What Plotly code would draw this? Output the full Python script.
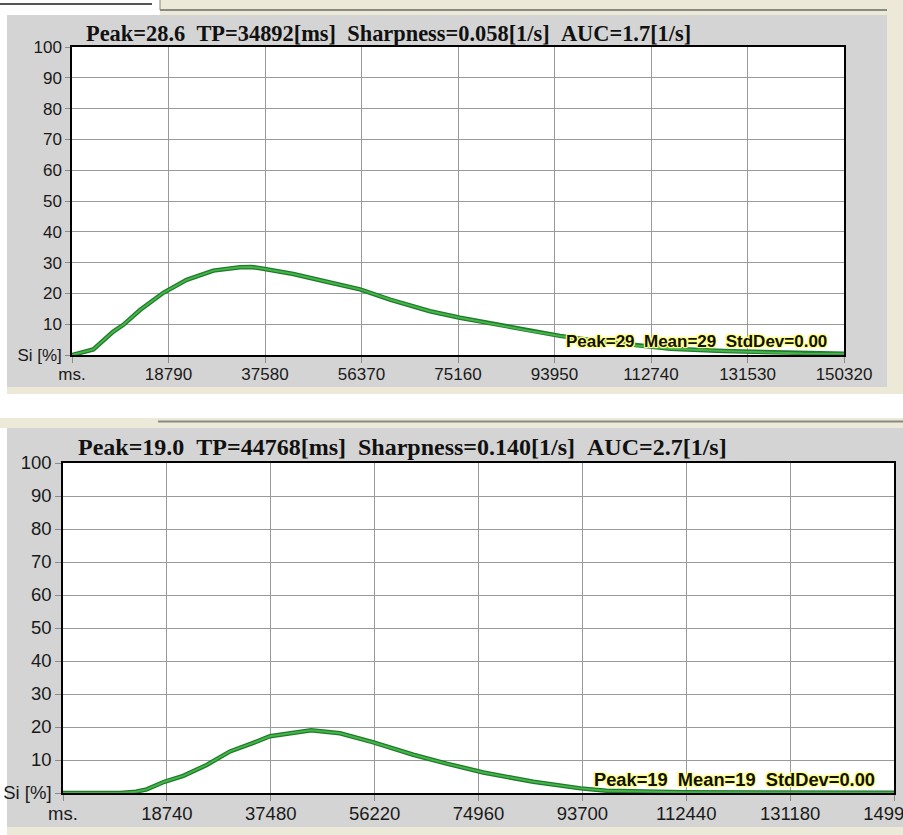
import plotly.graph_objects as go

# ---------------- data ----------------
# top panel
title1 = "Peak=28.6  TP=34892[ms]  Sharpness=0.058[1/s]  AUC=1.7[1/s]"
stats1 = "Peak=29  Mean=29  StdDev=0.00"
t1 = [0, 4150, 8040, 9990, 13240, 17780, 22330, 27520, 32710, 34892, 37250, 43090,
      49590, 56080, 61920, 69710, 75550, 83340, 89180, 95020, 102000, 109000,
      116500, 126780, 142350, 150320]
si1 = [0, 1.8, 7.6, 9.8, 14.6, 20.2, 24.4, 27.4, 28.5, 28.6, 28.0, 26.3,
       23.8, 21.3, 18.0, 14.2, 12.1, 9.6, 7.8, 6.2, 4.6, 3.2,
       2.0, 1.3, 0.5, 0.4]
xticks1 = [0, 18790, 37580, 56370, 75160, 93950, 112740, 131530, 150320]
xlabels1 = ["ms.", "18790", "37580", "56370", "75160", "93950", "112740", "131530", "150320"]

# bottom panel
title2 = "Peak=19.0  TP=44768[ms]  Sharpness=0.140[1/s]  AUC=2.7[1/s]"
stats2 = "Peak=19  Mean=19  StdDev=0.00"
t2 = [0, 10280, 13170, 15100, 18280, 21700, 25920, 30130, 34330, 37340, 44768,
      49970, 55870, 63200, 69220, 75830, 84850, 93380, 98060, 111900, 149920]
si2 = [0, 0, 0.4, 1.1, 3.4, 5.2, 8.5, 12.6, 15.2, 17.2, 19.0,
       18.1, 15.4, 11.6, 8.9, 6.2, 3.4, 1.4, 0.7, 0.2, 0.1]
xticks2 = [0, 18740, 37480, 56220, 74960, 93700, 112440, 131180, 149920]
xlabels2 = ["ms.", "18740", "37480", "56220", "74960", "93700", "112440", "131180", "149920"]

yticks = [0, 10, 20, 30, 40, 50, 60, 70, 80, 90, 100]
ylabels = ["Si [%]", "10", "20", "30", "40", "50", "60", "70", "80", "90", "100"]

# ---------------- figure ----------------
W, H = 903, 835
GRAY = "#d4d4d4"
BEIGE = "#ece9d8"


def px(x):
    return x / W


def py(y):
    return 1 - y / H


fig = go.Figure()

DARK_G = "#1f7a2c"
LIGHT_G = "#45b548"

for xs, ys, xa, ya in [(t1, si1, "x", "y"), (t2, si2, "x2", "y2")]:
    fig.add_trace(go.Scatter(x=xs, y=ys, xaxis=xa, yaxis=ya, mode="lines",
                             line=dict(color=DARK_G, width=4.5), hoverinfo="skip",
                             showlegend=False))
    fig.add_trace(go.Scatter(x=xs, y=ys, xaxis=xa, yaxis=ya, mode="lines",
                             line=dict(color=LIGHT_G, width=2), showlegend=False))

shapes = []


def rect(x0, y0, x1, y1, color):
    shapes.append(dict(type="rect", xref="paper", yref="paper", layer="below",
                       x0=px(x0), x1=px(x1), y0=py(y1), y1=py(y0),
                       fillcolor=color, line=dict(width=0)))


def hline(x0, x1, y, color, w=1):
    shapes.append(dict(type="line", xref="paper", yref="paper", layer="below",
                       x0=px(x0), x1=px(x1), y0=py(y), y1=py(y),
                       line=dict(color=color, width=w)))


def vline(x, y0, y1, color, w=1):
    shapes.append(dict(type="line", xref="paper", yref="paper", layer="below",
                       x0=px(x), x1=px(x), y0=py(y0), y1=py(y1),
                       line=dict(color=color, width=w)))


# header strip
rect(160, 0, 903, 15, BEIGE)
hline(160, 887, 10, "#8a8a80", 2)
vline(160, 0, 10, "#8a8a80", 1)
hline(0, 152, 4, "#555555", 2)
# top panel
rect(887, 10, 903, 394, BEIGE)
rect(7, 15, 887, 387, GRAY)
rect(7, 387, 903, 394, BEIGE)
rect(72, 47, 844, 355, "#ffffff")
# bottom panel
rect(0, 418, 903, 428, BEIGE)
hline(158, 903, 421.5, "#8a8a80", 2)
rect(7, 428, 903, 827, GRAY)
rect(7, 827, 903, 835, BEIGE)
rect(63, 463, 894, 793, "#ffffff")

TICKFONT1 = dict(family="Liberation Sans, Arial, sans-serif", size=17, color="#1a1a1a")
TICKFONT2 = dict(family="Liberation Sans, Arial, sans-serif", size=18.5, color="#1a1a1a")

axis_common = dict(showgrid=True, gridcolor="#9a9a9a", gridwidth=1,
                   showline=True, linecolor="#000000", linewidth=1.5, mirror=True,
                   ticks="outside", tickcolor="#8a8a8a", zeroline=False,
                   fixedrange=True, automargin=False)

fig.update_layout(
    template="none",
    width=W, height=H,
    margin=dict(l=0, r=0, t=0, b=0, pad=0, autoexpand=False),
    paper_bgcolor="#ffffff",
    plot_bgcolor="rgba(0,0,0,0)",
    showlegend=False,
    shapes=shapes,
    xaxis=dict(domain=[px(72), px(844)], range=[0, 150320], anchor="y",
               tickmode="array", tickvals=xticks1, ticktext=xlabels1,
               ticklen=6, ticklabelstandoff=-3, tickfont=TICKFONT1,
               ticklabeloverflow="allow", **axis_common),
    yaxis=dict(domain=[py(355), py(47)], range=[0, 100], anchor="x",
               tickmode="array", tickvals=yticks, ticktext=ylabels,
               ticklen=5, tickfont=TICKFONT1, **axis_common),
    xaxis2=dict(domain=[px(63), px(894)], range=[0, 149920], anchor="y2",
                tickmode="array", tickvals=xticks2, ticktext=xlabels2,
                ticklen=6, ticklabelstandoff=-3, tickfont=TICKFONT2,
                ticklabeloverflow="allow", **axis_common),
    yaxis2=dict(domain=[py(793), py(463)], range=[0, 100], anchor="x2",
                tickmode="array", tickvals=yticks, ticktext=ylabels,
                ticklen=6, tickfont=TICKFONT2, **axis_common),
)

SERIF = "Liberation Serif, Times New Roman, serif"
HALO = ("1px 1px 0 #ffff80, -1px -1px 0 #ffff80, 1px -1px 0 #ffff80, "
        "-1px 1px 0 #ffff80, 0 1px 1px #ffff80, 0 -1px 1px #ffff80, 0 0 3px #ffff60")


def nb(s):
    return s.replace(" ", "\u00a0")


fig.add_annotation(xref="paper", yref="paper", x=px(84), y=py(33),
                   xanchor="left", yanchor="middle", showarrow=False,
                   text="<b>" + nb(title1) + "</b>",
                   font=dict(family=SERIF, size=22.4, color="#111111"))
fig.add_annotation(xref="paper", yref="paper", x=px(76), y=py(447),
                   xanchor="left", yanchor="middle", showarrow=False,
                   text="<b>" + nb(title2) + "</b>",
                   font=dict(family=SERIF, size=24, color="#111111"))

fig.add_annotation(xref="paper", yref="paper", x=px(564), y=py(342),
                   xanchor="left", yanchor="middle", showarrow=False,
                   text="<b>" + nb(stats1) + "</b>",
                   font=dict(family="Liberation Sans, Arial, sans-serif", size=17,
                             color="#111111", shadow=HALO))
fig.add_annotation(xref="paper", yref="paper", x=px(592), y=py(779),
                   xanchor="left", yanchor="middle", showarrow=False,
                   text="<b>" + nb(stats2) + "</b>",
                   font=dict(family="Liberation Sans, Arial, sans-serif", size=18.3,
                             color="#111111", shadow=HALO))

fig.write_html("out.html", config=dict(displayModeBar=False),
               post_script="document.body.style.margin='0';document.body.style.overflow='hidden';")
